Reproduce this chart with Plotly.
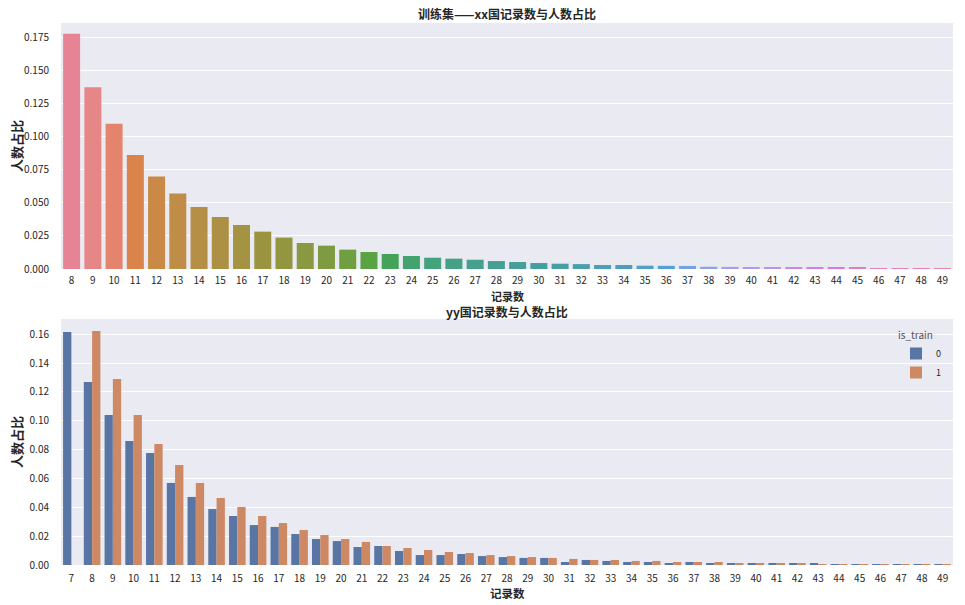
import math
import colorsys
import plotly.graph_objects as go

# ---------------- data ----------------
top_categories = [str(i) for i in range(8, 50)]
top_ratio = [0.1775, 0.1372, 0.1095, 0.0861, 0.0697, 0.0569, 0.0468, 0.0393, 0.0332, 0.0282,
             0.0237, 0.0196, 0.0176, 0.0146, 0.0128, 0.0113, 0.0098, 0.0085, 0.0078, 0.0070,
             0.0060, 0.0053, 0.0045, 0.0040, 0.0037, 0.0030, 0.0030, 0.0025, 0.0024, 0.0023,
             0.0017, 0.0016, 0.0015, 0.0015, 0.0014, 0.0009, 0.0008, 0.0008, 0.0007, 0.0007,
             0.0006, 0.0005]

bottom_categories = [str(i) for i in range(7, 50)]
ratio_train0 = [0.1616, 0.1269, 0.1040, 0.0860, 0.0777, 0.0569, 0.0472, 0.0388, 0.0340, 0.0277,
                0.0264, 0.0215, 0.0180, 0.0166, 0.0125, 0.0132, 0.0097, 0.0069, 0.0069, 0.0076,
                0.0062, 0.0055, 0.0049, 0.0049, 0.0021, 0.0035, 0.0028, 0.0021, 0.0021, 0.0014,
                0.0021, 0.0014, 0.0014, 0.0007, 0.0007, 0.0007, 0.0014, 0.0003, 0.0006, 0.0002,
                0.0003, 0.0002, 0.0001]
ratio_train1 = [0.0, 0.1623, 0.1290, 0.1040, 0.0839, 0.0694, 0.0569, 0.0465, 0.0402, 0.0340,
                0.0291, 0.0243, 0.0208, 0.0180, 0.0160, 0.0132, 0.0118, 0.0104, 0.0090, 0.0083,
                0.0069, 0.0062, 0.0055, 0.0049, 0.0042, 0.0035, 0.0035, 0.0028, 0.0028, 0.0021,
                0.0021, 0.0021, 0.0014, 0.0014, 0.0007, 0.0007, 0.0006, 0.0003, 0.0006, 0.0004,
                0.0004, 0.0005, 0.0002]

# ---------------- husl palette (seaborn default for many bars) ----------------
_m = [[3.2406, -1.5372, -0.4986], [-0.9689, 1.8758, 0.0415], [0.0557, -0.2040, 1.0570]]
_refU, _refV, _kappa, _eps = 0.19783000664283, 0.46831999493879, 903.2962962, 0.0088564516


def _max_chroma(L, H):
    hrad = math.radians(H)
    sinH, cosH = math.sin(hrad), math.cos(hrad)
    sub1 = (L + 16) ** 3 / 1560896.0
    sub2 = sub1 if sub1 > _eps else L / _kappa
    result = float("inf")
    for m1, m2, m3 in _m:
        top = (0.99915 * m1 + 1.05122 * m2 + 1.14460 * m3) * sub2
        rb = 0.86330 * m3 - 0.17266 * m2
        lb = 0.12949 * m3 - 0.38848 * m1
        bottom = (rb * sinH + lb * cosH) * sub2
        for t in (0.0, 1.0):
            C = L * (top - 1.05122 * t) / (bottom + 0.17266 * sinH * t)
            if 0 < C < result:
                result = C
    return result


def _husl_to_rgb(h, s, l):
    C = _max_chroma(l, h) / 100.0 * s
    hr = math.radians(h)
    U, V = math.cos(hr) * C, math.sin(hr) * C
    Y = ((l + 16) / 116.0) ** 3 if l > 8 else l / _kappa
    vu = U / (13 * l) + _refU
    vv = V / (13 * l) + _refV
    X = 0 - (9 * Y * vu) / ((vu - 4) * vv - vu * vv)
    Z = (9 * Y - 15 * vv * Y - vv * X) / (3 * vv)
    out = []
    for row in _m:
        c = row[0] * X + row[1] * Y + row[2] * Z
        c = 12.92 * c if c <= 0.0031308 else 1.055 * c ** (1 / 2.4) - 0.055
        out.append(min(max(c, 0.0), 1.0))
    return out


def husl_palette(n, h=0.01, s=0.9, l=0.65):
    cols = []
    for i in range(n):
        hue = ((i / n + h) % 1) * 359
        r, g, b = _husl_to_rgb(hue, s * 99, l * 100)
        hh, ll, ss = colorsys.rgb_to_hls(r, g, b)
        r, g, b = colorsys.hls_to_rgb(hh, ll, ss * 0.75)
        cols.append("rgb(%d,%d,%d)" % (round(r * 255), round(g * 255), round(b * 255)))
    return cols


top_colors = husl_palette(len(top_categories))
color0 = "#5975a4"
color1 = "#cc8963"

# ---------------- figure ----------------
W, H = 965, 605
L_M, R_M, T_M, B_M = 61, 12, 23, 40
plot_h = H - T_M - B_M


def py(ypx):
    return (H - B_M - ypx) / plot_h


def px(xpx):
    return (xpx - L_M) / (W - L_M - R_M)


text_col = "#262626"
FONT = "Noto Sans CJK SC, Noto Sans, sans-serif"

fig = go.Figure()
fig.add_trace(go.Bar(x=top_categories, y=top_ratio, marker=dict(color=top_colors, line_width=0),
                     xaxis="x", yaxis="y", showlegend=False))
fig.add_trace(go.Bar(x=bottom_categories, y=ratio_train0, name="0", marker=dict(color=color0, line_width=0),
                     xaxis="x2", yaxis="y2", offsetgroup="0"))
fig.add_trace(go.Bar(x=bottom_categories, y=ratio_train1, name="1", marker=dict(color=color1, line_width=0),
                     xaxis="x2", yaxis="y2", offsetgroup="1"))

axis_common = dict(showline=False, zeroline=False, tickfont=dict(family=FONT, size=10, color=text_col))

fig.update_layout(
    width=W, height=H,
    margin=dict(l=L_M, r=R_M, t=T_M, b=B_M),
    paper_bgcolor="white",
    plot_bgcolor="#EAEAF2",
    barmode="group",
    bargap=0.2,
    bargroupgap=0.0,
    font=dict(family=FONT, color=text_col),
    xaxis=dict(domain=[0, 1], anchor="y", type="category", showgrid=False,
               ticks="outside", ticklen=2, tickcolor="rgba(0,0,0,0)", **axis_common),
    yaxis=dict(domain=[py(269), 1.0], anchor="x", range=[0, 0.1856], dtick=0.025, tickformat=".3f",
               showgrid=True, gridcolor="white", gridwidth=1,
               ticks="outside", ticklen=9, tickcolor="rgba(0,0,0,0)", **axis_common),
    xaxis2=dict(domain=[0, 1], anchor="y2", type="category", showgrid=False,
                ticks="outside", ticklen=4, tickcolor="rgba(0,0,0,0)", **axis_common),
    yaxis2=dict(domain=[0, py(319)], anchor="x2", range=[0, 0.1706], dtick=0.02, tickformat=".2f",
                showgrid=True, gridcolor="white", gridwidth=1,
                ticks="outside", ticklen=9, tickcolor="rgba(0,0,0,0)", **axis_common),
    legend=dict(title=dict(text="is_train", font=dict(size=10, color="#555555"), side="top"),
                x=px(946), y=py(326), xanchor="right", yanchor="top",
                bgcolor="rgba(0,0,0,0)", font=dict(size=9, color=text_col),
                itemsizing="constant", tracegroupgap=0, itemwidth=30),
)

annots = [
    dict(text="<b>训练集——xx国记录数与人数占比</b>", x=0.5, y=py(13), size=12),
    dict(text="<b>记录数</b>", x=0.5, y=py(295.5), size=11),
    dict(text="<b>yy国记录数与人数占比</b>", x=0.5, y=py(311), size=12),
    dict(text="<b>记录数</b>", x=0.5, y=py(593), size=11.5),
]
for a in annots:
    fig.add_annotation(text=a["text"], x=a["x"], y=a["y"], xref="paper", yref="paper",
                       showarrow=False, xanchor="center", yanchor="middle",
                       font=dict(family=FONT, size=a["size"], color=text_col))

for yc in (146, 442):
    fig.add_annotation(text="<b>人数占比</b>", x=px(16), y=py(yc), xref="paper", yref="paper",
                       showarrow=False, textangle=-90, xanchor="center", yanchor="middle",
                       font=dict(family=FONT, size=13, color=text_col))

fig.write_html("out.html")
